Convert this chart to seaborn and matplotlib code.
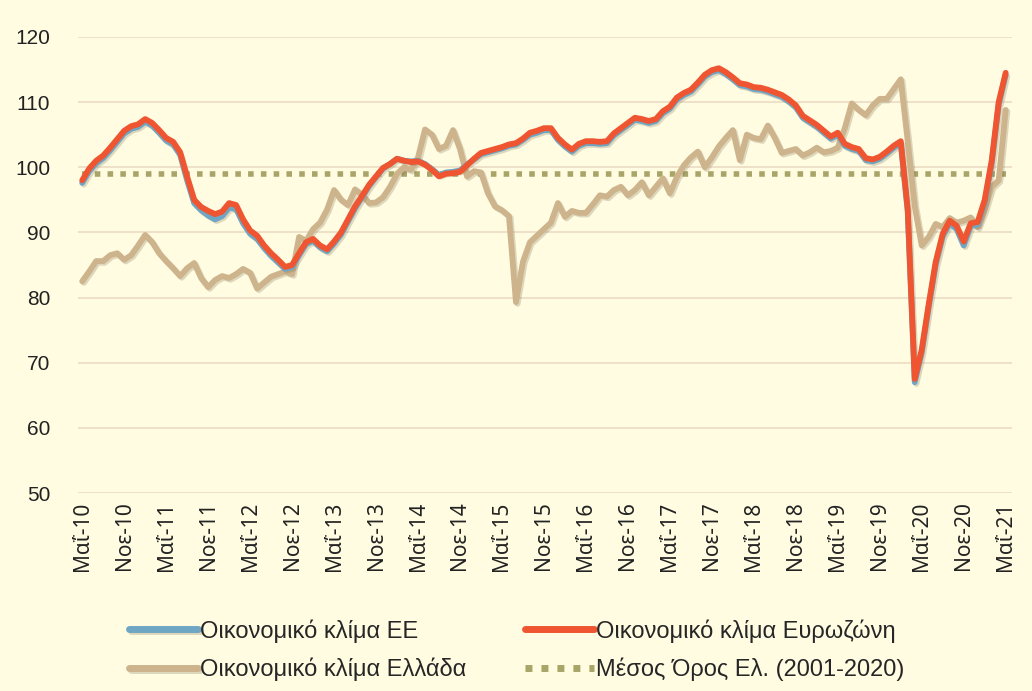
import matplotlib
matplotlib.use("Agg")
import matplotlib.pyplot as plt
import matplotlib.patheffects as pe
import seaborn as sns
import pandas as pd

# Μηνιαία στοιχεία Μαΐ-10 ... Μαΐ-21 (133 μήνες)
MONTHS = list(range(133))

TICK_LABELS = [
    "Μαΐ-10", "Νοε-10", "Μαΐ-11", "Νοε-11", "Μαΐ-12", "Νοε-12",
    "Μαΐ-13", "Νοε-13", "Μαΐ-14", "Νοε-14", "Μαΐ-15", "Νοε-15",
    "Μαΐ-16", "Νοε-16", "Μαΐ-17", "Νοε-17", "Μαΐ-18", "Νοε-18",
    "Μαΐ-19", "Νοε-19", "Μαΐ-20", "Νοε-20", "Μαΐ-21",
]

# Οικονομικό κλίμα Ευρωζώνη
ESI_EZ = [
    98.0, 99.8, 101.0, 101.8, 103.0, 104.3, 105.6, 106.3, 106.6, 107.4,
    106.8, 105.7, 104.5, 103.9, 102.3, 98.5, 95.0, 93.9, 93.3, 92.8,
    93.2, 94.5, 94.2, 92.0, 90.3, 89.5, 88.0, 86.8, 85.8, 84.7,
    85.0, 86.8, 88.5, 89.0, 88.0, 87.4, 88.6, 90.0, 92.0, 94.0,
    95.6, 97.3, 98.6, 99.9, 100.5, 101.3, 101.0, 100.8, 100.9, 100.4,
    99.6, 98.6, 99.0, 99.1, 99.3, 100.3, 101.3, 102.2, 102.5, 102.8,
    103.1, 103.5, 103.7, 104.4, 105.3, 105.6, 106.0, 106.0, 104.5, 103.5,
    102.7, 103.6, 104.0, 104.0, 103.9, 104.0, 105.2, 106.0, 106.8, 107.6,
    107.4, 107.1, 107.4, 108.6, 109.3, 110.7, 111.4, 111.9, 113.0, 114.2,
    114.9, 115.2, 114.6, 113.8, 112.9, 112.7, 112.3, 112.2, 111.9, 111.5,
    111.1, 110.4, 109.5, 107.9, 107.2, 106.5, 105.6, 104.7, 105.3, 103.6,
    103.1, 102.8, 101.4, 101.2, 101.6, 102.4, 103.3, 104.0, 93.5, 67.5,
    72.0, 79.0, 85.5, 89.8, 91.8, 91.0, 88.6, 91.4, 91.6, 95.0,
    101.0, 110.0, 114.5,
]

# Οικονομικό κλίμα ΕΕ
ESI_EU = [
    97.6, 99.4, 100.6, 101.4, 102.6, 103.9, 105.2, 105.9, 106.2, 107.0,
    106.4, 105.3, 104.1, 103.5, 101.9, 98.0, 94.5, 93.4, 92.6, 92.0,
    92.5, 93.8, 93.6, 91.4, 89.8, 89.0, 87.6, 86.4, 85.4, 84.4,
    84.7, 86.5, 88.2, 88.7, 87.7, 87.1, 88.3, 89.7, 91.7, 93.7,
    95.4, 97.1, 98.5, 99.8, 100.5, 101.3, 101.0, 100.9, 101.0, 100.5,
    99.7, 98.8, 99.2, 99.3, 99.5, 100.4, 101.2, 102.0, 102.3, 102.6,
    102.9, 103.3, 103.5, 104.2, 105.0, 105.3, 105.7, 105.7, 104.2, 103.2,
    102.4, 103.3, 103.7, 103.7, 103.6, 103.7, 104.9, 105.7, 106.5, 107.3,
    107.1, 106.8, 107.1, 108.3, 109.0, 110.4, 111.1, 111.6, 112.7, 113.9,
    114.6, 114.9, 114.3, 113.5, 112.6, 112.4, 112.0, 111.9, 111.6, 111.2,
    110.8, 110.1, 109.2, 107.6, 106.9, 106.2, 105.3, 104.4, 105.0, 103.3,
    102.8, 102.5, 101.1, 100.9, 101.3, 102.1, 103.0, 103.7, 93.2, 67.0,
    71.6, 78.6, 85.1, 89.4, 91.4, 90.5, 88.0, 91.0, 91.2, 94.6,
    100.6, 109.6, 114.2,
]

# Οικονομικό κλίμα Ελλάδα
ESI_GR = [
    82.5, 84.0, 85.6, 85.6, 86.5, 86.8, 85.8, 86.5, 88.0, 89.6,
    88.5, 86.8, 85.6, 84.5, 83.3, 84.5, 85.3, 83.0, 81.6, 82.7,
    83.3, 83.0, 83.6, 84.4, 83.8, 81.4, 82.3, 83.2, 83.6, 84.0,
    83.6, 89.3, 88.7, 90.5, 91.5, 93.5, 96.5, 95.0, 94.2, 96.6,
    95.8, 94.5, 94.6, 95.4, 97.0, 99.0, 100.0, 99.6, 101.5, 105.8,
    105.0, 102.8, 103.3, 105.7, 102.8, 98.6, 99.4, 99.2, 96.0, 94.0,
    93.4, 92.5, 79.3, 85.5, 88.5, 89.5, 90.5, 91.5, 94.5, 92.4,
    93.3, 93.0, 93.0, 94.3, 95.7, 95.5, 96.5, 97.0, 95.7, 96.5,
    97.7, 95.7, 97.0, 98.3, 96.0, 98.5, 100.3, 101.5, 102.4, 100.0,
    101.5, 103.2, 104.5, 105.7, 101.1, 105.0, 104.5, 104.3, 106.4, 104.5,
    102.2, 102.5, 102.8, 101.8, 102.3, 103.0, 102.3, 102.5, 103.0, 106.0,
    109.8, 108.8, 108.0, 109.5, 110.5, 110.5, 112.0, 113.5, 104.0, 94.0,
    88.0, 89.3, 91.3, 90.8, 92.2, 91.5, 91.8, 92.3, 90.8, 93.5,
    97.0, 98.0, 108.8,
]

# Μέσος Όρος Ελλάδας (2001-2020)
GR_MEAN = 99.0

LABEL_EU = "Οικονομικό κλίμα ΕΕ"
LABEL_EZ = "Οικονομικό κλίμα Ευρωζώνη"
LABEL_GR = "Οικονομικό κλίμα Ελλάδα"
LABEL_MEAN = "Μέσος Όρος Ελ. (2001-2020)"

BG = "#FFFCE1"
C_EU = "#6FA6C4"
C_EZ = "#EF5530"
C_GR = "#CDB48C"
C_MEAN = "#A9A468"
C_GRID = "#EBDCC2"

sns.set_theme(style="white")
plt.rcParams["font.family"] = ["Liberation Sans", "DejaVu Sans"]

df = pd.DataFrame({
    "month": MONTHS,
    "eu": ESI_EU,
    "ez": ESI_EZ,
    "gr": ESI_GR,
    "mean": [GR_MEAN] * len(MONTHS),
})

fig = plt.figure(figsize=(10.32, 6.91), dpi=100, facecolor=BG)
ax = fig.add_axes([0.0756, 0.2865, 0.905, 0.66])
ax.set_facecolor(BG)

shadow = [pe.SimpleLineShadow(offset=(1.2, -1.2), alpha=0.25, shadow_color="#7a6a50"),
          pe.Normal()]

sns.lineplot(data=df, x="month", y="mean", ax=ax, color=C_MEAN, lw=4.0,
             label=LABEL_MEAN, zorder=2)
ax.lines[-1].set_dashes((1.0, 1.3))
ax.lines[-1].set_dash_capstyle("butt")
sns.lineplot(data=df, x="month", y="gr", ax=ax, color=C_GR, lw=4.2,
             label=LABEL_GR, zorder=3, path_effects=shadow)
sns.lineplot(data=df, x="month", y="eu", ax=ax, color=C_EU, lw=4.2,
             label=LABEL_EU, zorder=4, path_effects=shadow)
sns.lineplot(data=df, x="month", y="ez", ax=ax, color=C_EZ, lw=4.2,
             label=LABEL_EZ, zorder=5)

ax.set_ylim(50, 120)
ax.set_xlim(-0.6, 132.9)
ax.set_yticks(range(50, 121, 10))
ax.set_xticks(range(0, 133, 6))
# Noto Sans αποδίδει σωστά το «ΐ»
ax.set_xticklabels(TICK_LABELS, rotation=90, fontsize=15, color="#222222",
                   family=["Noto Sans", "DejaVu Sans"])
ax.tick_params(axis="y", labelsize=15, colors="#222222", length=0, pad=20)
ax.tick_params(axis="x", length=0, pad=6)
ax.grid(axis="y", color=C_GRID, lw=1.2)
ax.set_axisbelow(True)
ax.set_xlabel("")
ax.set_ylabel("")
sns.despine(ax=ax, left=True, bottom=True)

handles, labels = ax.get_legend_handles_labels()
hmap = dict(zip(labels, handles))
order = [LABEL_EU, LABEL_GR, LABEL_EZ, LABEL_MEAN]
ax.legend_.remove()
leg = fig.legend([hmap[k] for k in order], order, loc="center",
                 bbox_to_anchor=(0.501, 0.059), ncol=2, frameon=False,
                 fontsize=17, handlelength=2.9, handletextpad=0.1,
                 columnspacing=2.5, labelspacing=0.65)
for line in leg.get_lines():
    line.set_linewidth(5)

fig.savefig("out.png", dpi=100, facecolor=BG)
